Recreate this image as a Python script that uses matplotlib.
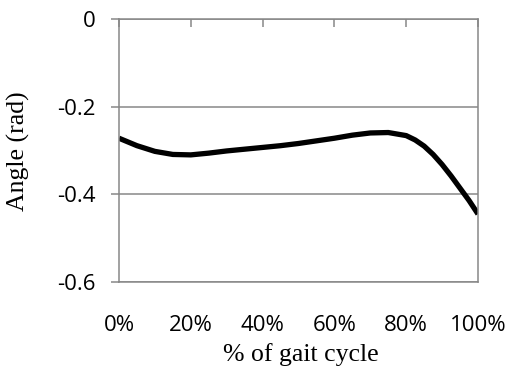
import matplotlib
matplotlib.use("Agg")
import matplotlib.pyplot as plt
from matplotlib.ticker import FuncFormatter

gait_pct = [0, 5, 10, 15, 20, 25, 30, 35, 40, 45, 50, 55, 60, 65, 70, 75, 80,
            82.5, 85, 87.5, 90, 92.5, 95, 97.5, 100]
angle_rad = [-0.272, -0.289, -0.302, -0.309, -0.310, -0.306, -0.301, -0.297, -0.293, -0.289,
             -0.284, -0.278, -0.272, -0.265, -0.260, -0.259, -0.266,
             -0.276, -0.290, -0.309, -0.332, -0.358, -0.386, -0.414, -0.445]
x_ticks = [0, 20, 40, 60, 80, 100]
y_ticks = [0, -0.2, -0.4, -0.6]

gray = "#878787"
fig = plt.figure(figsize=(5.08, 3.74), dpi=100)
ax = fig.add_axes([119/508, 1 - 282/374, (478-119)/508, (282-19)/374])

ax.plot(gait_pct, angle_rad, color="black", lw=3.8, solid_capstyle="butt")
ax.set_xlim(0, 100)
ax.set_ylim(-0.6, 0)
ax.set_yticks(y_ticks)
ax.set_yticklabels(["0", "-0.2", "-0.4", "-0.6"])
ax.set_xticks(x_ticks)
ax.xaxis.set_major_formatter(FuncFormatter(lambda v, p: f"{int(v)}%"))
ax.yaxis.grid(True, color=gray, lw=1.1)
ax.set_axisbelow(True)
for s in ax.spines.values():
    s.set_color(gray)
    s.set_linewidth(1.1)

ax.xaxis.set_ticks_position("top")
ax.tick_params(axis="x", direction="in", length=6, width=1.1, color=gray,
               labeltop=False, labelbottom=True, pad=24)
ax.tick_params(axis="y", direction="out", length=6, width=1.1, color=gray, pad=11)
for lab in ax.get_xticklabels() + ax.get_yticklabels():
    lab.set_fontfamily("Open Sans")
    lab.set_fontsize(16)
    lab.set_color("black")

ax.set_xlabel("% of gait cycle", fontfamily="Liberation Serif", fontsize=18.5)
ax.set_ylabel("Angle (rad)", fontfamily="Liberation Serif", fontsize=18.5)
ax.xaxis.set_label_coords((301-119)/(478-119), (282-355)/(282-19), transform=ax.transAxes)
ax.yaxis.set_label_coords((18-119)/(478-119), (282-151)/(282-19), transform=ax.transAxes)
ax.xaxis.label.set_va("center")
ax.yaxis.label.set_va("center")

fig.savefig("out.png", dpi=100)
